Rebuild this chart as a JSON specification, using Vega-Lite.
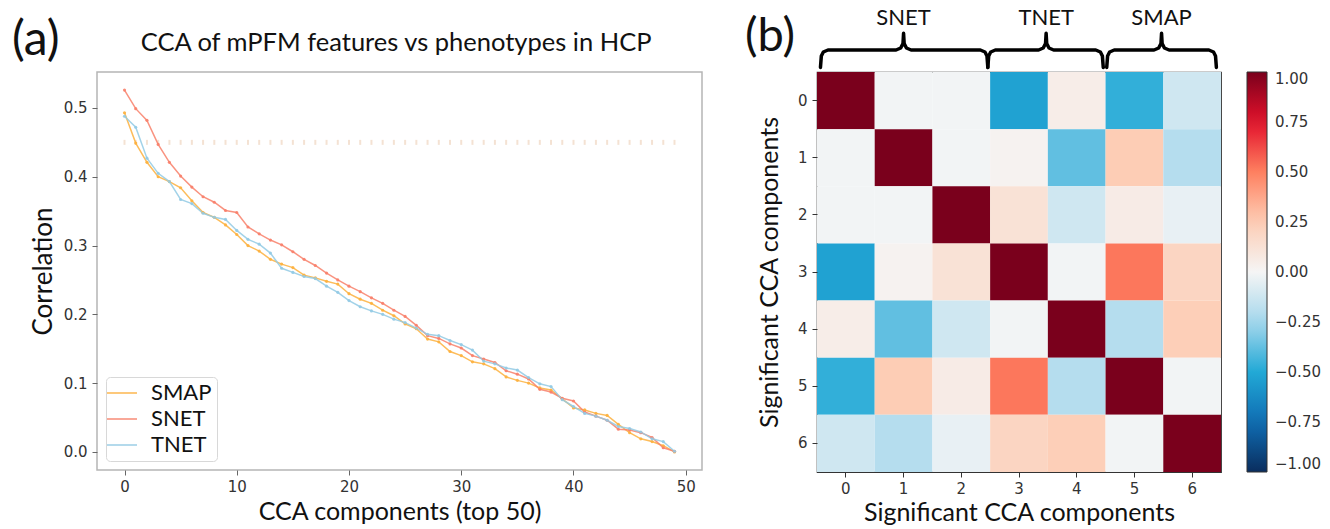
{
  "$schema": "https://vega.github.io/schema/vega-lite/v6.json",
  "background": "white",
  "padding": {"left": 11, "top": 6, "right": 2, "bottom": 0},
  "config": {"font": "Lato", "view": {"stroke": null}},
  "datasets": {
    "cca": [
      {"comp":0,"SMAP":0.493,"SNET":0.526,"TNET":0.488},
      {"comp":1,"SMAP":0.449,"SNET":0.499,"TNET":0.472},
      {"comp":2,"SMAP":0.421,"SNET":0.482,"TNET":0.427},
      {"comp":3,"SMAP":0.400,"SNET":0.447,"TNET":0.405},
      {"comp":4,"SMAP":0.393,"SNET":0.421,"TNET":0.393},
      {"comp":5,"SMAP":0.384,"SNET":0.401,"TNET":0.367},
      {"comp":6,"SMAP":0.365,"SNET":0.385,"TNET":0.361},
      {"comp":7,"SMAP":0.348,"SNET":0.371,"TNET":0.347},
      {"comp":8,"SMAP":0.341,"SNET":0.363,"TNET":0.341},
      {"comp":9,"SMAP":0.330,"SNET":0.351,"TNET":0.338},
      {"comp":10,"SMAP":0.316,"SNET":0.348,"TNET":0.322},
      {"comp":11,"SMAP":0.300,"SNET":0.327,"TNET":0.309},
      {"comp":12,"SMAP":0.292,"SNET":0.317,"TNET":0.302},
      {"comp":13,"SMAP":0.280,"SNET":0.308,"TNET":0.289},
      {"comp":14,"SMAP":0.273,"SNET":0.301,"TNET":0.267},
      {"comp":15,"SMAP":0.268,"SNET":0.291,"TNET":0.261},
      {"comp":16,"SMAP":0.257,"SNET":0.280,"TNET":0.255},
      {"comp":17,"SMAP":0.253,"SNET":0.271,"TNET":0.252},
      {"comp":18,"SMAP":0.248,"SNET":0.260,"TNET":0.241},
      {"comp":19,"SMAP":0.244,"SNET":0.250,"TNET":0.232},
      {"comp":20,"SMAP":0.230,"SNET":0.241,"TNET":0.220},
      {"comp":21,"SMAP":0.222,"SNET":0.233,"TNET":0.211},
      {"comp":22,"SMAP":0.216,"SNET":0.224,"TNET":0.205},
      {"comp":23,"SMAP":0.206,"SNET":0.216,"TNET":0.200},
      {"comp":24,"SMAP":0.198,"SNET":0.206,"TNET":0.193},
      {"comp":25,"SMAP":0.186,"SNET":0.197,"TNET":0.188},
      {"comp":26,"SMAP":0.179,"SNET":0.184,"TNET":0.180},
      {"comp":27,"SMAP":0.164,"SNET":0.169,"TNET":0.171},
      {"comp":28,"SMAP":0.160,"SNET":0.165,"TNET":0.169},
      {"comp":29,"SMAP":0.146,"SNET":0.157,"TNET":0.162},
      {"comp":30,"SMAP":0.140,"SNET":0.151,"TNET":0.156},
      {"comp":31,"SMAP":0.131,"SNET":0.140,"TNET":0.148},
      {"comp":32,"SMAP":0.128,"SNET":0.135,"TNET":0.132},
      {"comp":33,"SMAP":0.121,"SNET":0.130,"TNET":0.128},
      {"comp":34,"SMAP":0.109,"SNET":0.118,"TNET":0.122},
      {"comp":35,"SMAP":0.104,"SNET":0.113,"TNET":0.119},
      {"comp":36,"SMAP":0.100,"SNET":0.106,"TNET":0.108},
      {"comp":37,"SMAP":0.093,"SNET":0.091,"TNET":0.099},
      {"comp":38,"SMAP":0.090,"SNET":0.087,"TNET":0.095},
      {"comp":39,"SMAP":0.077,"SNET":0.078,"TNET":0.076},
      {"comp":40,"SMAP":0.064,"SNET":0.074,"TNET":0.066},
      {"comp":41,"SMAP":0.061,"SNET":0.058,"TNET":0.056},
      {"comp":42,"SMAP":0.056,"SNET":0.052,"TNET":0.052},
      {"comp":43,"SMAP":0.053,"SNET":0.046,"TNET":0.046},
      {"comp":44,"SMAP":0.040,"SNET":0.033,"TNET":0.037},
      {"comp":45,"SMAP":0.028,"SNET":0.032,"TNET":0.034},
      {"comp":46,"SMAP":0.019,"SNET":0.028,"TNET":0.029},
      {"comp":47,"SMAP":0.015,"SNET":0.021,"TNET":0.019},
      {"comp":48,"SMAP":0.009,"SNET":0.006,"TNET":0.015},
      {"comp":49,"SMAP":0.000,"SNET":0.001,"TNET":0.001}
    ],
    "thresh": [
      {"comp":0,"corr":0.45},{"comp":1,"corr":0.45},{"comp":2,"corr":0.45},{"comp":3,"corr":0.45},{"comp":4,"corr":0.45},
      {"comp":5,"corr":0.45},{"comp":6,"corr":0.45},{"comp":7,"corr":0.45},{"comp":8,"corr":0.45},{"comp":9,"corr":0.45},
      {"comp":10,"corr":0.45},{"comp":11,"corr":0.45},{"comp":12,"corr":0.45},{"comp":13,"corr":0.45},{"comp":14,"corr":0.45},
      {"comp":15,"corr":0.45},{"comp":16,"corr":0.45},{"comp":17,"corr":0.45},{"comp":18,"corr":0.45},{"comp":19,"corr":0.45},
      {"comp":20,"corr":0.45},{"comp":21,"corr":0.45},{"comp":22,"corr":0.45},{"comp":23,"corr":0.45},{"comp":24,"corr":0.45},
      {"comp":25,"corr":0.45},{"comp":26,"corr":0.45},{"comp":27,"corr":0.45},{"comp":28,"corr":0.45},{"comp":29,"corr":0.45},
      {"comp":30,"corr":0.45},{"comp":31,"corr":0.45},{"comp":32,"corr":0.45},{"comp":33,"corr":0.45},{"comp":34,"corr":0.45},
      {"comp":35,"corr":0.45},{"comp":36,"corr":0.45},{"comp":37,"corr":0.45},{"comp":38,"corr":0.45},{"comp":39,"corr":0.45},
      {"comp":40,"corr":0.45},{"comp":41,"corr":0.45},{"comp":42,"corr":0.45},{"comp":43,"corr":0.45},{"comp":44,"corr":0.45},
      {"comp":45,"corr":0.45},{"comp":46,"corr":0.45},{"comp":47,"corr":0.45},{"comp":48,"corr":0.45},{"comp":49,"corr":0.45}
    ],
    "corr": [
      {"row":0,"col":0,"r":1},{"row":0,"col":1,"r":-0.01},{"row":0,"col":2,"r":-0.01},{"row":0,"col":3,"r":-0.53},{"row":0,"col":4,"r":0.05},{"row":0,"col":5,"r":-0.47},{"row":0,"col":6,"r":-0.12},
      {"row":1,"col":0,"r":-0.01},{"row":1,"col":1,"r":1},{"row":1,"col":2,"r":-0.01},{"row":1,"col":3,"r":0.02},{"row":1,"col":4,"r":-0.38},{"row":1,"col":5,"r":0.25},{"row":1,"col":6,"r":-0.2},
      {"row":2,"col":0,"r":-0.01},{"row":2,"col":1,"r":-0.01},{"row":2,"col":2,"r":1},{"row":2,"col":3,"r":0.12},{"row":2,"col":4,"r":-0.12},{"row":2,"col":5,"r":0.06},{"row":2,"col":6,"r":-0.04},
      {"row":3,"col":0,"r":-0.53},{"row":3,"col":1,"r":0.02},{"row":3,"col":2,"r":0.12},{"row":3,"col":3,"r":1},{"row":3,"col":4,"r":-0.01},{"row":3,"col":5,"r":0.52},{"row":3,"col":6,"r":0.2},
      {"row":4,"col":0,"r":0.05},{"row":4,"col":1,"r":-0.38},{"row":4,"col":2,"r":-0.12},{"row":4,"col":3,"r":-0.01},{"row":4,"col":4,"r":1},{"row":4,"col":5,"r":-0.2},{"row":4,"col":6,"r":0.24},
      {"row":5,"col":0,"r":-0.47},{"row":5,"col":1,"r":0.25},{"row":5,"col":2,"r":0.06},{"row":5,"col":3,"r":0.52},{"row":5,"col":4,"r":-0.2},{"row":5,"col":5,"r":1},{"row":5,"col":6,"r":-0.01},
      {"row":6,"col":0,"r":-0.12},{"row":6,"col":1,"r":-0.2},{"row":6,"col":2,"r":-0.04},{"row":6,"col":3,"r":0.2},{"row":6,"col":4,"r":0.24},{"row":6,"col":5,"r":-0.01},{"row":6,"col":6,"r":1}
    ],
    "braces": [
      {"brace":"SNET","seq":1,"bx":-0.44,"by":-0.58},{"brace":"SNET","seq":2,"bx":-0.425,"by":-0.78},{"brace":"SNET","seq":3,"bx":-0.39,"by":-0.85},{"brace":"SNET","seq":4,"bx":-0.31,"by":-0.885},
      {"brace":"SNET","seq":5,"bx":0.87,"by":-0.885},{"brace":"SNET","seq":6,"bx":0.95,"by":-0.92},{"brace":"SNET","seq":7,"bx":0.99,"by":-1.0},{"brace":"SNET","seq":8,"bx":1.0,"by":-1.177},
      {"brace":"SNET","seq":9,"bx":1.01,"by":-1.0},{"brace":"SNET","seq":10,"bx":1.05,"by":-0.92},{"brace":"SNET","seq":11,"bx":1.13,"by":-0.885},{"brace":"SNET","seq":12,"bx":2.33,"by":-0.885},
      {"brace":"SNET","seq":13,"bx":2.41,"by":-0.85},{"brace":"SNET","seq":14,"bx":2.445,"by":-0.78},{"brace":"SNET","seq":15,"bx":2.46,"by":-0.58},
      {"brace":"TNET","seq":1,"bx":2.46,"by":-0.58},{"brace":"TNET","seq":2,"bx":2.475,"by":-0.78},{"brace":"TNET","seq":3,"bx":2.51,"by":-0.85},{"brace":"TNET","seq":4,"bx":2.59,"by":-0.885},
      {"brace":"TNET","seq":5,"bx":3.34,"by":-0.885},{"brace":"TNET","seq":6,"bx":3.42,"by":-0.92},{"brace":"TNET","seq":7,"bx":3.46,"by":-1.0},{"brace":"TNET","seq":8,"bx":3.47,"by":-1.177},
      {"brace":"TNET","seq":9,"bx":3.48,"by":-1.0},{"brace":"TNET","seq":10,"bx":3.52,"by":-0.92},{"brace":"TNET","seq":11,"bx":3.6,"by":-0.885},{"brace":"TNET","seq":12,"bx":4.33,"by":-0.885},
      {"brace":"TNET","seq":13,"bx":4.41,"by":-0.85},{"brace":"TNET","seq":14,"bx":4.445,"by":-0.78},{"brace":"TNET","seq":15,"bx":4.46,"by":-0.58},
      {"brace":"SMAP","seq":1,"bx":4.52,"by":-0.58},{"brace":"SMAP","seq":2,"bx":4.535,"by":-0.78},{"brace":"SMAP","seq":3,"bx":4.57,"by":-0.85},{"brace":"SMAP","seq":4,"bx":4.65,"by":-0.885},
      {"brace":"SMAP","seq":5,"bx":5.34,"by":-0.885},{"brace":"SMAP","seq":6,"bx":5.42,"by":-0.92},{"brace":"SMAP","seq":7,"bx":5.46,"by":-1.0},{"brace":"SMAP","seq":8,"bx":5.47,"by":-1.177},
      {"brace":"SMAP","seq":9,"bx":5.48,"by":-1.0},{"brace":"SMAP","seq":10,"bx":5.52,"by":-0.92},{"brace":"SMAP","seq":11,"bx":5.6,"by":-0.885},{"brace":"SMAP","seq":12,"bx":6.29,"by":-0.885},
      {"brace":"SMAP","seq":13,"bx":6.37,"by":-0.85},{"brace":"SMAP","seq":14,"bx":6.405,"by":-0.78},{"brace":"SMAP","seq":15,"bx":6.42,"by":-0.58}
    ],
    "groups": [
      {"label":"SNET","bx":1.0,"by":-1.44},
      {"label":"TNET","bx":3.47,"by":-1.44},
      {"label":"SMAP","bx":5.47,"by":-1.44}
    ]
  },
  "hconcat": [
    {
      "width": 605,
      "height": 398,
      "view": {"stroke": "#b5b5b5", "strokeWidth": 1.5},
      "layer": [
        {
          "data": {"name": "thresh"},
          "mark": {"type": "tick", "orient": "vertical", "size": 5, "thickness": 2, "color": "#f0d6c0"},
          "encoding": {
            "x": {"field": "comp", "type": "quantitative", "scale": {"domain": [-2.45, 51.45], "nice": false, "zero": false},
              "axis": {"values": [0,10,20,30,40,50], "title": "CCA components (top 50)", "titleFont": "Lato", "titleFontSize": 25, "titleFontWeight": "normal", "titleColor": "#111111", "titlePadding": 5, "labelFont": "DejaVu Sans", "labelFontSize": 15, "labelColor": "#333333", "labelPadding": 4, "tickColor": "#666666", "tickSize": 5, "domain": false, "grid": false}},
            "y": {"field": "corr", "type": "quantitative", "scale": {"domain": [-0.0263, 0.5523], "nice": false, "zero": false},
              "axis": {"values": [0,0.1,0.2,0.3,0.4,0.5], "format": ".1f", "title": "Correlation", "titleFont": "Lato", "titleFontSize": 26, "titleFontWeight": "normal", "titleColor": "#111111", "titlePadding": 7, "labelFont": "DejaVu Sans", "labelFontSize": 15, "labelColor": "#333333", "labelPadding": 5, "tickColor": "#666666", "tickSize": 5, "domain": false, "grid": false}}
          }
        },
        {
          "data": {"name": "cca"},
          "transform": [{"fold": ["SMAP", "SNET", "TNET"], "as": ["method", "corr"]}],
          "mark": {"type": "line", "strokeWidth": 1.5, "opacity": 0.85, "point": {"size": 10, "filled": true, "opacity": 0.9}},
          "encoding": {
            "x": {"field": "comp", "type": "quantitative"},
            "y": {"field": "corr", "type": "quantitative"},
            "color": {"field": "method", "type": "nominal",
              "scale": {"domain": ["SMAP", "SNET", "TNET"], "range": ["#fdb03d", "#f8806a", "#92cae4"]},
              "legend": {"orient": "bottom-left", "offset": 9, "title": null, "fillColor": "white", "strokeColor": "#d8d8d8", "cornerRadius": 4, "padding": 5, "labelFont": "Lato", "labelFontSize": 22, "labelColor": "#111111", "symbolType": "M-1.5,0H1.5", "symbolSize": 400, "symbolStrokeWidth": 1.6, "rowPadding": 4, "labelOffset": 18}}
          }
        },
        {
          "data": {"values": [{}]},
          "mark": {"type": "text", "text": "(a)", "font": "Lato", "fontSize": 48, "color": "#111111", "baseline": "middle", "align": "center"},
          "encoding": {
            "x": {"datum": -7.9, "type": "quantitative"},
            "y": {"datum": 0.597, "type": "quantitative"}
          }
        },
        {
          "data": {"values": [{}]},
          "mark": {"type": "text", "text": "CCA of mPFM features vs phenotypes in HCP", "font": "Lato", "fontSize": 25.5, "color": "#111111", "baseline": "middle", "align": "center"},
          "encoding": {
            "x": {"datum": 24.2, "type": "quantitative"},
            "y": {"datum": 0.595, "type": "quantitative"}
          }
        }
      ]
    },
    {
      "width": 404,
      "height": 400,
      "view": {"stroke": "#333333", "strokeWidth": 1.2},
      "layer": [
        {
          "data": {"name": "corr"},
          "mark": {"type": "rect"},
          "encoding": {
            "x": {"field": "col", "type": "ordinal", "scale": {"paddingInner": 0, "paddingOuter": 0},
              "axis": {"title": "Significant CCA components", "labelAngle": 0, "titleFont": "Lato", "titleFontSize": 25, "titleFontWeight": "normal", "titleColor": "#111111", "titlePadding": 4, "labelFont": "DejaVu Sans", "labelFontSize": 15, "labelColor": "#333333", "labelPadding": 4, "tickColor": "#333333", "tickSize": 5, "domain": false}},
            "y": {"field": "row", "type": "ordinal", "scale": {"paddingInner": 0, "paddingOuter": 0},
              "axis": {"title": "Significant CCA components", "labelAngle": 0, "titleFont": "Lato", "titleFontSize": 25, "titleFontWeight": "normal", "titleColor": "#111111", "titlePadding": 15, "labelFont": "DejaVu Sans", "labelFontSize": 15, "labelColor": "#333333", "labelPadding": 5, "tickColor": "#333333", "tickSize": 5, "domain": false}},
            "color": {"field": "r", "type": "quantitative",
              "scale": {"domain": [-1, -0.75, -0.5, -0.25, 0, 0.25, 0.5, 0.75, 1], "range": ["#0a2d5e", "#0f6db3", "#22a9d6", "#a5d7ec", "#f5f5f5", "#fdcdb5", "#fe8060", "#e2112b", "#7a001c"], "interpolate": "rgb"},
              "legend": {"orient": "right", "offset": 26, "title": null, "direction": "vertical", "gradientLength": 400, "gradientThickness": 20, "gradientStrokeColor": "#333333", "gradientStrokeWidth": 1, "values": [-1, -0.75, -0.5, -0.25, 0, 0.25, 0.5, 0.75, 1], "labelExpr": "replace(format(datum.value, '.2f'), '-', '−')", "labelFont": "DejaVu Sans", "labelFontSize": 15, "labelColor": "#333333", "labelOffset": 8, "labelBaseline": "middle", "labelOverlap": false}}
          }
        },
        {
          "data": {"name": "braces"},
          "mark": {"type": "line", "color": "#000000", "strokeWidth": 3.5, "strokeCap": "round", "strokeJoin": "round"},
          "encoding": {
            "x": {"field": "bx", "type": "quantitative", "scale": {"domain": [-0.5, 6.5], "nice": false, "zero": false}, "axis": null},
            "y": {"field": "by", "type": "quantitative", "scale": {"domain": [-0.5, 6.5], "reverse": true, "nice": false, "zero": false}, "axis": null},
            "detail": {"field": "brace", "type": "nominal"},
            "order": {"field": "seq", "type": "quantitative"}
          }
        },
        {
          "data": {"name": "groups"},
          "mark": {"type": "text", "font": "Lato", "fontSize": 22, "color": "#111111", "baseline": "middle", "align": "center"},
          "encoding": {
            "x": {"field": "bx", "type": "quantitative", "scale": {"domain": [-0.5, 6.5], "nice": false, "zero": false}, "axis": null},
            "y": {"field": "by", "type": "quantitative", "scale": {"domain": [-0.5, 6.5], "reverse": true, "nice": false, "zero": false}, "axis": null},
            "text": {"field": "label", "type": "nominal"}
          }
        },
        {
          "data": {"values": [{}]},
          "mark": {"type": "text", "text": "(b)", "font": "Lato", "fontSize": 47, "color": "#111111", "baseline": "middle", "align": "center"},
          "encoding": {
            "x": {"datum": -1.315, "type": "quantitative", "scale": {"domain": [-0.5, 6.5], "nice": false, "zero": false}, "axis": null},
            "y": {"datum": -1.115, "type": "quantitative", "scale": {"domain": [-0.5, 6.5], "reverse": true, "nice": false, "zero": false}, "axis": null}
          }
        }
      ],
      "resolve": {"scale": {"x": "independent", "y": "independent"}}
    }
  ],
  "spacing": 41
}
